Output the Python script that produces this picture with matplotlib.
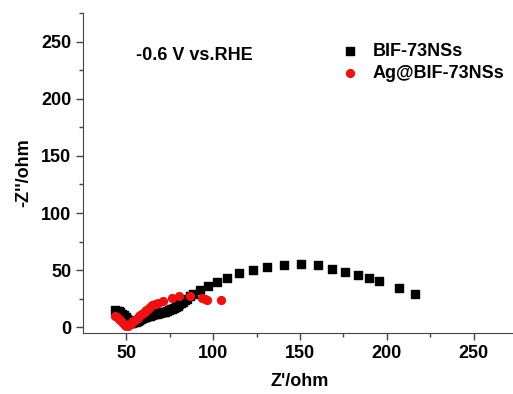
import matplotlib
matplotlib.use('Agg')
import matplotlib.pyplot as plt

plt.rcParams['font.family'] = ['Liberation Sans', 'DejaVu Sans']
plt.rcParams['font.weight'] = 'bold'

# BIF-73NSs (black squares)
bif_x = [43.5, 44.5, 45.5, 46.5, 47.5, 48.5, 49.5, 50.3, 51.0, 51.7, 52.5, 53.5,
         54.5, 55.5, 56.5, 57.5, 58.5, 59.5, 60.5, 61.5, 62.5, 63.5, 64.5, 65.5,
         66.5, 67.5, 68.5, 69.5, 70.5, 71.5, 72.5, 73.5, 74.5, 75.5, 76.5, 77.5,
         78.5, 79.5, 80.5, 81.5, 82.5, 83.5, 84.8, 86.5, 88.2, 92.5, 97.1, 102.1,
         107.8, 114.7, 123.0, 131.1, 140.5, 150.3, 160.5, 168.7, 176.2, 183.3,
         189.7, 195.6, 207.2, 216.4]
bif_y = [15.0, 14.5, 14.0, 13.0, 12.0, 10.5, 9.0, 7.5, 6.0, 4.8, 4.0, 3.8,
         4.2, 5.0, 5.8, 6.6, 7.3, 8.0, 8.6, 9.2, 9.8, 10.3, 10.8, 11.2,
         11.6, 12.0, 12.3, 12.7, 13.0, 13.4, 13.8, 14.3, 14.9, 15.6, 16.3, 17.0,
         18.0, 19.0, 20.0, 21.2, 22.4, 23.6, 25.0, 27.0, 29.4, 32.3, 35.8, 39.6,
         43.4, 47.5, 50.4, 52.7, 54.2, 55.1, 54.2, 51.3, 48.4, 46.0,
         43.4, 40.2, 34.7, 29.4]

# Ag@BIF-73NSs (red circles)
ag_x = [43.5, 44.5, 45.5, 46.5, 47.5, 48.5, 49.3, 50.0, 50.8, 51.6, 52.4, 53.2,
        54.0, 54.8, 55.6, 56.4, 57.2, 58.0, 58.8, 59.6, 60.5, 61.5, 62.5, 63.6,
        65.0, 66.5, 68.3, 71.3, 76.1, 80.5, 86.7, 93.4, 95.0, 96.5, 104.5]
ag_y = [9.5, 9.0, 7.5, 6.0, 4.5, 3.0, 1.8, 1.0, 1.2, 2.2, 3.2, 4.3,
        5.3, 6.3, 7.3, 8.4, 9.5, 10.6, 11.6, 12.6, 13.7, 15.0, 16.3, 17.6,
        19.2, 20.5, 21.5, 22.7, 25.5, 27.5, 27.2, 26.0, 25.0, 24.3, 23.8]

fig = plt.figure(figsize=(5.13, 3.94), dpi=100)
ax = fig.add_axes([0.1618, 0.1548, 0.846, 0.812])

ax.scatter(bif_x, bif_y, marker='s', s=30, color='black', label='BIF-73NSs', zorder=2)
ax.scatter(ag_x, ag_y, marker='o', s=32, color='#ee1111', label='Ag@BIF-73NSs', zorder=3)

ax.set_xlim(25, 275)
ax.set_ylim(-5, 275)
ax.set_xticks([50, 100, 150, 200, 250])
ax.set_xticks([75, 125, 175, 225], minor=True)
ax.set_yticks([0, 50, 100, 150, 200, 250])
ax.set_yticks([25, 75, 125, 175, 225, 275], minor=True)
ax.tick_params(which='major', direction='out', length=5, width=1, labelsize=13, color='#444444')
ax.tick_params(which='minor', direction='out', length=3, width=1, color='#444444')
for lab in ax.get_xticklabels() + ax.get_yticklabels():
    lab.set_fontweight('bold')

ax.spines['top'].set_visible(False)
ax.spines['right'].set_visible(False)
ax.spines['left'].set_color('#444444')
ax.spines['bottom'].set_color('#444444')

ax.set_xlabel("Z'/ohm", fontsize=13, fontweight='bold', labelpad=8)
ax.set_ylabel("-Z''/ohm", fontsize=13, fontweight='bold', labelpad=6)

ax.text(55.6, 238, '-0.6 V vs.RHE', fontsize=13, fontweight='bold', va='center')

ax.legend(loc='upper left', bbox_to_anchor=(0.556, 0.93), frameon=False,
          handletextpad=0.28, labelspacing=0.3, borderaxespad=0,
          prop={'weight': 'bold', 'size': 13})

plt.savefig('out.png', dpi=100)
